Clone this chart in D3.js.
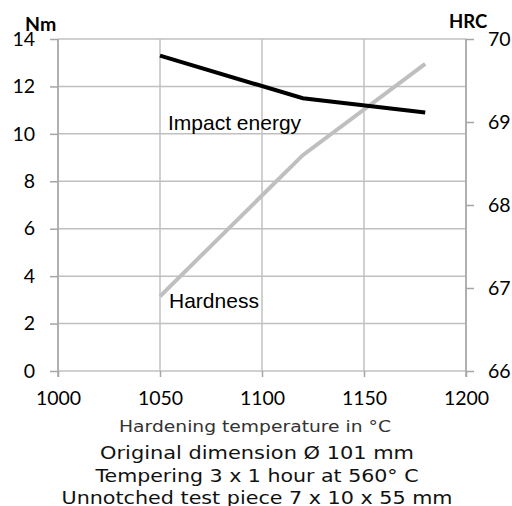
<!DOCTYPE html>
<html>
<head>
<meta charset="utf-8">
<script src="https://cdn.jsdelivr.net/npm/d3@7"></script>
<style>
body { margin: 0; background: #fff; }
text { font-family: Lato, "Open Sans", sans-serif; }
.note { font-family: "DejaVu Sans", "Open Sans", sans-serif; }
</style>
</head>
<body>
<div id="chart"></div>
<script>
var width = 512,
  height = 506;

// data
var temps = [1050, 1120, 1180];
var impact = [13.3, 11.5, 10.9];
var hardness = [66.9, 68.6, 69.7];
var xTicks = [1000, 1050, 1100, 1150, 1200];
var leftTicks = [0, 2, 4, 6, 8, 10, 12, 14];
var rightTicks = [66, 67, 68, 69, 70];
var notes = ["Original dimension Ø 101 mm", "Tempering 3 x 1 hour at 560° C", "Unnotched test piece 7 x 10 x 55 mm"];
var noteWidths = [314, 323, 391];

var margin = {left: 58, right: 46, top: 39, bottom: 135};

var svg = d3.select("#chart")
  .append("svg")
  .attr("width", width)
  .attr("height", height);

var x = d3.scaleLinear().domain([1000, 1200]).range([margin.left, width - margin.right]);
var yL = d3.scaleLinear().domain([0, 14]).range([height - margin.bottom, margin.top]);
var yR = d3.scaleLinear().domain([66, 70]).range([height - margin.bottom, margin.top]);

var gridColor = "#c0c0c0";
var axisColor = "#a6a6a6";

// gridlines
svg.append("g").selectAll("line")
  .data(leftTicks)
  .enter().append("line")
  .attr("x1", x(1000)).attr("x2", x(1200))
  .attr("y1", function(d) { return yL(d) }).attr("y2", function(d) { return yL(d) })
  .attr("stroke", gridColor).attr("stroke-width", 1.5);

svg.append("g").selectAll("line")
  .data(xTicks)
  .enter().append("line")
  .attr("x1", function(d) { return x(d) }).attr("x2", function(d) { return x(d) })
  .attr("y1", yL(14)).attr("y2", yL(0))
  .attr("stroke", gridColor).attr("stroke-width", 1.5);

// axes
var axisL = d3.axisLeft(yL).tickValues(leftTicks).tickSize(8).tickPadding(15).tickFormat(d3.format("d"));
var axisR = d3.axisRight(yR).tickValues(rightTicks).tickSize(8).tickPadding(14).tickFormat(d3.format("d"));
var axisB = d3.axisBottom(x).tickValues(xTicks).tickSize(6).tickPadding(14).tickFormat(d3.format("d"));

function styleAxis(g) {
  g.selectAll("path, line").attr("stroke", axisColor).attr("stroke-width", 1.5);
  g.select(".domain").attr("d", null);
  g.selectAll("text").attr("font-size", 19.5).attr("fill", "#000").style("font-family", "Lato, sans-serif");
}

svg.append("g").attr("transform", "translate(" + margin.left + ",0)").call(axisL).call(styleAxis);
svg.append("g").attr("transform", "translate(" + (width - margin.right) + ",0)").call(axisR).call(styleAxis);
svg.append("g").attr("transform", "translate(0," + yL(0) + ")").call(axisB).call(styleAxis);

// axis lines
svg.append("line").attr("x1", x(1000)).attr("x2", x(1000)).attr("y1", yL(14)).attr("y2", yL(0) + 6)
  .attr("stroke", axisColor).attr("stroke-width", 1.5);
svg.append("line").attr("x1", x(1200)).attr("x2", x(1200)).attr("y1", yL(14)).attr("y2", yL(0) + 6)
  .attr("stroke", axisColor).attr("stroke-width", 1.5);

// series
var lineL = d3.line().x(function(d, i) { return x(temps[i]) }).y(function(d) { return yL(d) });
var lineR = d3.line().x(function(d, i) { return x(temps[i]) }).y(function(d) { return yR(d) });

svg.append("path").datum(hardness).attr("d", lineR)
  .attr("fill", "none").attr("stroke", "#bfbfbf").attr("stroke-width", 4);
svg.append("path").datum(impact).attr("d", lineL)
  .attr("fill", "none").attr("stroke", "#000").attr("stroke-width", 4);

// labels
svg.append("text").attr("x", 168).attr("y", 130).text("Impact energy")
  .style("font-family", "'Liberation Sans', Arial, sans-serif").attr("font-size", 21);
svg.append("text").attr("x", 169).attr("y", 308).text("Hardness")
  .style("font-family", "'Liberation Sans', Arial, sans-serif").attr("font-size", 21);

svg.append("text").attr("x", 25).attr("y", 31).text("Nm")
  .attr("font-weight", "bold").attr("font-size", 19.5);
svg.append("text").attr("x", 449).attr("y", 28).text("HRC")
  .attr("font-weight", "bold").attr("font-size", 18.5);

svg.append("text").attr("class", "note").attr("x", 255).attr("y", 432)
  .attr("text-anchor", "middle").attr("font-size", 15.5).attr("fill", "#333")
  .attr("textLength", 272).attr("lengthAdjust", "spacingAndGlyphs")
  .text("Hardening temperature in °C");

svg.append("g").selectAll("text")
  .data(notes)
  .enter().append("text")
  .attr("class", "note")
  .attr("x", 257)
  .attr("y", function(d, i) { return 459 + i * 22.5 })
  .attr("text-anchor", "middle").attr("font-size", 18.5).attr("fill", "#111")
  .attr("textLength", function(d, i) { return noteWidths[i] })
  .attr("lengthAdjust", "spacingAndGlyphs")
  .text(function(d) { return d });
</script>
</body>
</html>
